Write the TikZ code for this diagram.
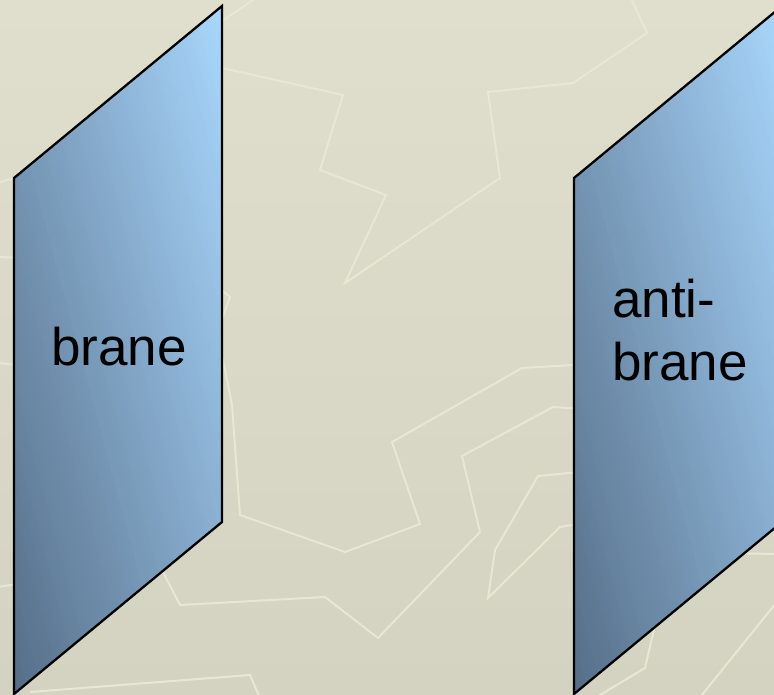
\documentclass[tikz,border=0pt]{standalone}
\usepackage{fontspec}
\setmainfont{Liberation Sans}
\definecolor{bgtop}{RGB}{224,222,204}
\definecolor{bgbot}{RGB}{212,210,192}
\definecolor{bgline}{RGB}{233,231,212}
\definecolor{branedark}{RGB}{86,110,136}
\definecolor{branelight}{RGB}{168,214,252}
\tikzset{
  bgtrace/.style={draw=bgline, line width=2pt, line join=miter},
  braneedge/.style={draw=black, line width=2.3pt, line join=miter},
  branelabel/.style={font=\fontsize{53}{62}\selectfont, inner sep=0pt, text=black}
}
\begin{document}
\begin{tikzpicture}[x=1pt,y=-1pt]
\useasboundingbox (0,0) rectangle (774,694);
\clip (0,0) rectangle (774,694);
\shade[top color=bgtop,bottom color=bgbot] (0,0) rectangle (774,694);
% faint background traces
\draw[bgtrace] (256,-2) -- (200,36);
\draw[bgtrace] (200,63) -- (343,95) -- (320,170) -- (386,195) -- (345,283) -- (500,178) -- (488,92) -- (573,83) -- (647,33) -- (630,-4);
\draw[bgtrace] (-2,183) -- (30,173);
\draw[bgtrace] (-2,257) -- (30,258);
\draw[bgtrace] (-2,363) -- (30,366);
\draw[bgtrace] (-2,587) -- (30,582);
\draw[bgtrace] (210,280) -- (230,297) -- (218,330);
\draw[bgtrace] (210,340) -- (223,360) -- (232,405) -- (240,515) -- (345,552) -- (420,524) -- (392,442) -- (522,368) -- (573,365) -- (600,364);
\draw[bgtrace] (600,410) -- (553,407) -- (462,456) -- (480,532) -- (378,638) -- (325,597) -- (180,605) -- (163,572) -- (150,545);
\draw[bgtrace] (600,470) -- (538,476) -- (495,550) -- (488,598) -- (560,527) -- (600,520);
\draw[bgtrace] (720,553) -- (776,554);
\draw[bgtrace] (776,603) -- (693,706);
\draw[bgtrace] (655,625) -- (645,668) -- (595,698);
\draw[bgtrace] (30,692) -- (250,675) -- (260,698);
% brane panels
\foreach \ox in {0,560} {
  \begin{scope}[xshift=\ox]
    \begin{scope}
      \clip (14,178) -- (222,6) -- (222,522) -- (14,694) -- cycle;
      \begin{scope}[shift={(14,694)}, rotate=15]
        \foreach \i in {0,...,79} {
          \pgfmathtruncatemacro\p{round(100*\i/79)}
          \fill[branelight!\p!branedark] ({\i*4.74},-900) rectangle ({(\i+1)*4.74+0.8},900);
        }
      \end{scope}
    \end{scope}
    \draw[braneedge] (14,178) -- (222,6) -- (222,522) -- (14,694) -- cycle;
  \end{scope}
}
\node[branelabel, anchor=base] (braneL) at (119,365) {brane};
\node[branelabel, anchor=base west] (antiR1) at (612,317) {anti-};
\node[branelabel, anchor=base west] (antiR2) at (612,380) {brane};
\end{tikzpicture}
\end{document}
